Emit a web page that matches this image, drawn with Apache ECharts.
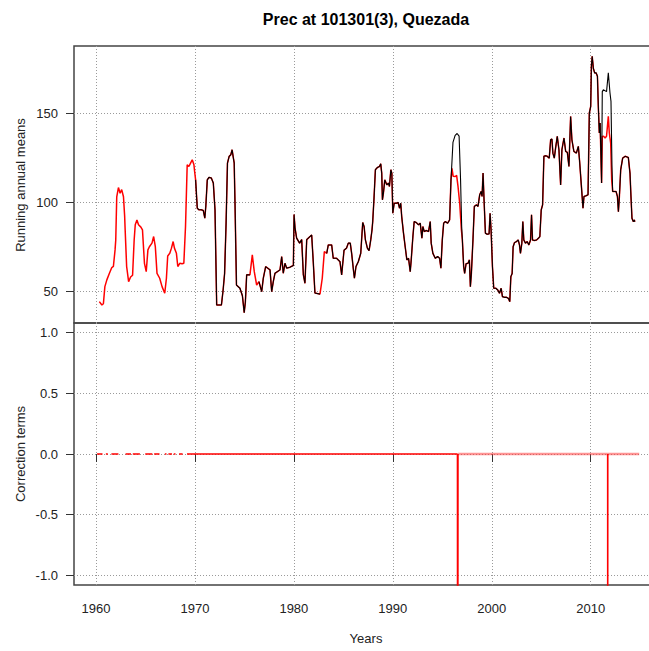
<!DOCTYPE html>
<html>
<head>
<meta charset="utf-8">
<title>Prec at 101301(3), Quezada</title>
<script src="https://cdn.jsdelivr.net/npm/echarts@6/dist/echarts.min.js"></script>
<style>
  html, body { margin: 0; padding: 0; background: #ffffff; }
  #chart { width: 649px; height: 651px; }
</style>
</head>
<body>
<div id="chart"></div>
<script>
// ---- Running annual means: [decimal year, value] ----
// Homogenized-only stretch (no original data in the 1960s)
const homogOnly1960s = [
  [1960.34,44.2],[1960.6,42.3],[1960.75,43],[1960.9,52.6],[1961.1,56.4],[1961.35,60],[1961.6,63.3],
  [1961.76,63.9],[1961.93,73.2],[1962.0,78.8],[1962.1,103],[1962.27,108.2],[1962.44,105],[1962.6,107],
  [1962.78,103],[1962.9,92],[1962.95,84.5],[1963.1,63.9],[1963.3,55.4],[1963.5,58],[1963.7,59],
  [1963.86,78.8],[1963.97,87.3],[1964.14,90],[1964.3,87.3],[1964.54,86],[1964.7,84.5],[1964.9,65.7],
  [1965.08,61],[1965.25,73.2],[1965.4,75],[1965.66,77],[1965.83,80.7],[1966.0,75],[1966.17,60],
  [1966.44,57.3],[1966.68,52.6],[1966.95,48.9],[1967.12,57.3],[1967.25,69.8],[1967.46,71.3],
  [1967.63,74.2],[1967.8,77.9],[1967.93,74.2],[1968.13,71.3],[1968.27,63.9],[1968.47,65.7],
  [1968.7,65.4],[1968.88,65.7],[1969.05,86.3],[1969.22,121],[1969.39,120],[1969.56,121.9],
  [1969.73,123.8],[1969.9,121],[1969.97,117.2]
];
// Stretches where original and homogenized series coincide
const common1 = [
  [1970.07,112.5],[1970.24,96.6],[1970.4,95.7],[1970.64,95.7],[1970.85,95.3],[1971.0,91],[1971.1,97.6],
  [1971.25,112.5],[1971.42,113.9],[1971.66,113.5],[1971.86,110.7],[1972.03,95.7],[1972.2,42.3],
  [1972.44,42.3],[1972.68,42.3],[1972.85,50.7],[1973.0,60],[1973.15,88.2],[1973.29,121.9],
  [1973.46,125.7],[1973.63,126.6],[1973.76,129.4],[1973.86,125.7],[1973.97,122],[1974.05,100],
  [1974.2,53.5],[1974.55,51.7],[1974.8,47.5],[1974.98,38],[1975.1,44],[1975.23,59.2],[1975.56,59.2]
];
const homogGap1 = [[1975.8,70.4],[1976.0,61],[1976.24,53.5]];
const common2 = [
  [1976.47,55.4],[1976.75,49.8],[1976.91,57.3],[1977.15,63.8],[1977.59,62],[1977.76,49.8],
  [1977.92,55.4],[1978.09,60.1],[1978.6,62],[1978.77,69.4],[1978.93,60.1],[1979.1,65.7],[1979.27,63],
  [1979.6,63.5],[1979.95,64.5],[1980.02,93],[1980.12,85.4],[1980.28,79.8],[1980.58,77],[1980.79,79],
  [1980.96,59.2],[1981.12,54.5],[1981.3,79],[1981.8,81.6],[1981.96,66.6],[1982.13,49],[1982.64,48.4]
];
const homogGap2 = [[1982.87,57.3],[1983.08,72.3]];
const common3 = [
  [1983.32,71.3],[1983.48,76],[1983.82,76],[1983.98,68.5],[1984.32,68.5],[1984.66,66.6],[1984.83,59.2],
  [1985.07,73],[1985.32,74.2],[1985.5,77],[1985.7,77],[1985.84,71.3],[1986.02,62],[1986.12,57.3],
  [1986.28,63.9],[1986.52,66.7],[1986.76,71.3],[1986.96,88.6],[1987.1,86.3],[1987.23,78.8],
  [1987.43,74.2],[1987.6,72.8],[1987.77,78.8],[1987.9,84.5],[1987.97,89.1],[1988.1,102.2],
  [1988.24,118.2],[1988.45,119.5],[1988.65,120],[1988.78,121.5],[1988.88,116.3],[1988.95,101.3],
  [1989.05,105],[1989.19,112.5],[1989.4,109.7],[1989.56,110.7],[1989.66,108.8],[1989.8,118.2],
  [1989.9,116.3],[1990.0,93.8],[1990.14,99.4],[1990.34,99.4],[1990.54,99.8],[1990.68,96.6],
  [1990.8,99.4],[1990.9,91.9],[1991.08,82.6],[1991.25,75],[1991.42,67.6],[1991.59,68.5],[1991.76,61],
  [1991.86,67.6],[1992.03,80.7],[1992.16,89.1],[1992.36,88.6],[1992.6,87.3],[1992.77,88.2],
  [1992.94,79.8],[1993.04,86.3],[1993.18,83.5],[1993.38,84.1],[1993.61,83.5],[1993.78,89.1],
  [1993.88,77],[1994.05,71.3],[1994.29,68.5],[1994.53,69.5],[1994.73,68.5],[1994.86,62.9],
  [1995.0,78.8],[1995.14,88.2],[1995.3,89.1],[1995.54,88.2],[1995.74,90],[1995.88,112.5]
];
const homogBreak1 = [
  [1995.98,119],[1996.1,114.5],[1996.32,114.4],[1996.45,115],[1996.59,108.8],[1996.76,99.4],[1996.93,84.5]
];
const origBreak1 = [
  [1996.0,125],[1996.08,133.5],[1996.3,137.5],[1996.5,138.5],[1996.7,137],[1996.85,112],[1996.96,86.3]
];
const common4 = [
  [1997.03,78.8],[1997.16,63.9],[1997.26,60],[1997.4,65.4],[1997.6,65.7],[1997.74,67.6],[1997.84,52.6],
  [1997.94,60],[1998.1,78.8],[1998.24,97.6],[1998.45,98.5],[1998.61,97.6],[1998.78,104.1],[1998.92,106],
  [1999.02,103.2],[1999.12,116.3],[1999.22,101.3],[1999.36,82.6],[1999.53,82],[1999.73,82.2],
  [1999.83,93.8],[1999.93,84.5],[2000.07,63.9],[2000.2,51.7],[2000.41,51.7],[2000.61,50.7],
  [2000.78,48.9],[2000.95,51.7],[2001.08,47],[2001.28,46.6],[2001.49,46.6],[2001.69,46],[2001.82,44.2],
  [2001.93,58.2],[2002.06,60],[2002.16,75],[2002.3,77.3],[2002.5,77.9],[2002.67,78.8],[2002.8,76],
  [2002.9,71.3],[2003.04,77],[2003.14,89.1],[2003.24,78.8],[2003.41,77],[2003.58,77.9],[2003.75,76],
  [2003.92,78.8],[2004.02,92.9],[2004.12,78.8],[2004.32,78.5],[2004.53,78.8],[2004.73,79.8],
  [2004.86,80.7],[2005.0,95.7],[2005.14,98.5],[2005.27,125.7],[2005.44,126],[2005.61,125.7],
  [2005.81,124.7],[2005.95,135],[2006.08,135.4],[2006.18,127.5],[2006.32,124.7],[2006.45,130.3],
  [2006.62,136.9],[2006.79,129.4],[2006.96,109.7],[2007.09,129.4],[2007.3,136],[2007.47,128.5],
  [2007.64,127.9],[2007.8,120],[2007.97,148.1],[2008.1,135],[2008.3,128.5],[2008.55,127.5],
  [2008.75,131.3],[2008.88,122.8],[2009.05,109.7],[2009.22,96.6],[2009.32,103.2],[2009.53,103.6],
  [2009.73,104.1],[2009.86,150],[2010.0,153.7],[2010.07,176.2],[2010.15,181.8],[2010.27,175],
  [2010.4,172.5],[2010.55,172.5],[2010.68,170.6],[2010.77,153.7],[2010.87,138.8],[2010.95,144.4],
  [2011.1,110.7]
];
const homogBreak2 = [
  [2011.17,136.9],[2011.3,137],[2011.45,136],[2011.6,137],[2011.78,148.1],[2011.88,138.8],
  [2012.02,133.1],[2012.12,112.5]
];
const origBreak2 = [
  [2011.17,162],[2011.28,163],[2011.6,162],[2011.78,172.5],[2011.95,161.2],[2012.05,156.5],[2012.15,120]
];
const common5 = [
  [2012.22,106],[2012.56,106],[2012.7,103.2],[2012.8,94.7],[2012.9,103.2],[2013.03,118.1],
  [2013.23,124.7],[2013.47,125.7],[2013.8,125.1],[2013.97,116.3],[2014.07,103.2],[2014.17,91],
  [2014.3,89.1],[2014.41,90],[2014.46,89]
];

// ---- Correction terms: [decimal year, value], '-' marks a gap ----
const correctionMain = [
  [1960.11,0],[1960.66,0],[1960.8,'-'],[1961.0,0],[1961.2,0],[1961.4,'-'],[1961.56,0],[1962.27,0],
  [1962.6,'-'],[1962.99,0],[1963.54,0],[1963.6,'-'],[1963.72,0],[1964.44,0],[1964.7,'-'],
  [1964.98,0],[1965.7,0],[1965.8,'-'],[1965.88,0],[1966.42,0],[1966.7,'-'],[1966.96,0],[1967.13,0],
  [1967.2,'-'],[1967.32,0],[1967.68,0],[1967.8,'-'],[1967.86,0],[1968.04,0],[1968.2,'-'],
  [1968.4,0],[1968.76,0],[1969.0,'-'],[1969.2,0],[1996.52,0],[1996.56,-6],[1996.6,0],
  [1996.62,'-'],[2011.7,0],[2011.72,-6],[2011.74,0]
];
const correctionLate = [[1996.6,0],[2014.9,0]];

// ---- Axis ticks ----
const yearTicks = [1960, 1970, 1980, 1990, 2000, 2010];
const meanTicks = [50, 100, 150];
const corrTicks = [-1, -0.5, 0, 0.5, 1];

// Series assembled from the pieces above
const homogenized = [].concat(homogOnly1960s, common1, homogGap1, common2, homogGap2,
  common3, homogBreak1, common4, homogBreak2, common5);
const original = [].concat(common1, [[1975.9, '-']], common2, [[1983.0, '-']],
  common3, origBreak1, common4, origBreak2, common5);

const FONT = '"Liberation Sans", Arial, Helvetica, sans-serif';
const X_MIN = 1957.78, X_MAX = 2016.7;
const dotted = { show: true, lineStyle: { color: '#9a9a9a', width: 1, type: [1, 2] } };
const tickStyle = { color: '#333', width: 1 };
const labelStyle = { fontSize: 13, color: '#222', fontFamily: FONT };

const chart = echarts.init(document.getElementById('chart'), null, { renderer: 'svg' });

chart.setOption({
  animation: false,
  backgroundColor: '#ffffff',
  grid: [
    { left: 74, top: 46, width: 583, height: 277, outerBoundsMode: 'none',
      show: true, borderColor: '#444', borderWidth: 1.5 },
    { left: 74, top: 323, width: 583, height: 262, outerBoundsMode: 'none',
      show: true, borderColor: '#444', borderWidth: 1.5 }
  ],
  xAxis: [
    {
      type: 'value', gridIndex: 0, min: X_MIN, max: X_MAX,
      axisLine: { show: false },
      axisTick: { show: false, customValues: yearTicks },
      axisLabel: { show: false, customValues: yearTicks },
      splitLine: dotted
    },
    {
      type: 'value', gridIndex: 1, min: X_MIN, max: X_MAX,
      axisLine: { show: false },
      axisTick: { show: true, length: 8, customValues: yearTicks, lineStyle: tickStyle },
      axisLabel: Object.assign({ margin: 17, customValues: yearTicks, formatter: v => String(v) }, labelStyle),
      splitLine: dotted
    }
  ],
  yAxis: [
    {
      type: 'value', gridIndex: 0, min: 32.2, max: 187.6,
      axisLine: { show: false },
      axisTick: { show: true, length: 8, customValues: meanTicks, lineStyle: tickStyle },
      axisLabel: Object.assign({ margin: 16, customValues: meanTicks }, labelStyle),
      splitLine: dotted
    },
    {
      type: 'value', gridIndex: 1, min: -1.08, max: 1.08,
      axisLine: { show: false },
      axisTick: { show: true, length: 8, customValues: corrTicks, lineStyle: tickStyle },
      axisLabel: Object.assign({ margin: 16, customValues: corrTicks, formatter: v => v.toFixed(1) }, labelStyle),
      splitLine: dotted
    }
  ],
  series: [
    {
      name: 'Homogenized', type: 'line', xAxisIndex: 0, yAxisIndex: 0, data: homogenized,
      symbol: 'none', silent: true, lineStyle: { color: '#ff0000', width: 1.5 }
    },
    {
      name: 'Original', type: 'line', xAxisIndex: 0, yAxisIndex: 0, data: original,
      symbol: 'none', silent: true, lineStyle: { color: '#000000', width: 1.1 }
    },
    {
      name: 'Correction (late)', type: 'line', xAxisIndex: 1, yAxisIndex: 1, data: correctionLate,
      symbol: 'none', silent: true, lineStyle: { color: 'rgba(255,60,60,0.55)', width: 2.5 }
    },
    {
      name: 'Correction', type: 'line', xAxisIndex: 1, yAxisIndex: 1, data: correctionMain,
      symbol: 'none', silent: true, clip: true, lineStyle: { color: '#ff0000', width: 1.3 }
    }
  ],
  graphic: [
    {
      type: 'text', x: 366, y: 19,
      style: { text: 'Prec at 101301(3), Quezada', fontFamily: FONT, fontSize: 16, fontWeight: 'bold',
               fill: '#000', textAlign: 'center', textVerticalAlign: 'middle' }
    },
    {
      type: 'text', x: 20, y: 185, rotation: Math.PI / 2,
      style: { text: 'Running annual means', fontFamily: FONT, fontSize: 13, fill: '#222',
               textAlign: 'center', textVerticalAlign: 'middle' }
    },
    {
      type: 'text', x: 20, y: 454, rotation: Math.PI / 2,
      style: { text: 'Correction terms', fontFamily: FONT, fontSize: 13, fill: '#222',
               textAlign: 'center', textVerticalAlign: 'middle' }
    },
    {
      type: 'text', x: 366, y: 638,
      style: { text: 'Years', fontFamily: FONT, fontSize: 13, fill: '#222',
               textAlign: 'center', textVerticalAlign: 'middle' }
    }
  ]
});
</script>
</body>
</html>
